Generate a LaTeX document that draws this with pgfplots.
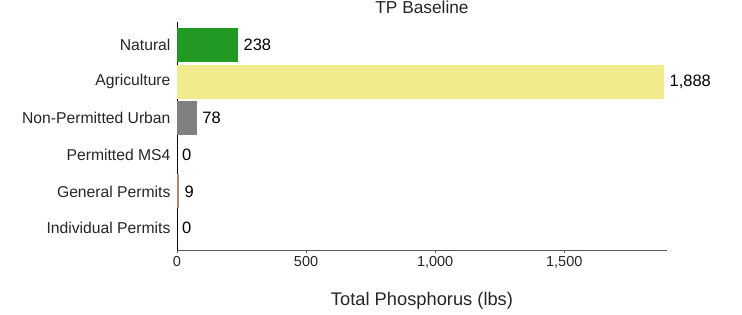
\documentclass[border=0pt]{standalone}
\usepackage{fontspec}
\setmainfont{Liberation Sans}
\usepackage{pgfplots}
\pgfplotsset{compat=1.18}
\definecolor{cgreen}{RGB}{34,153,34}
\definecolor{cyellow}{RGB}{240,235,140}
\definecolor{cgray}{RGB}{128,128,128}
\definecolor{cbrown}{RGB}{185,135,105}
\definecolor{cmaroon}{RGB}{160,60,60}
\begin{document}
\begin{tikzpicture}
\begin{axis}[name=ax, xbar, scale only axis, width=490pt, height=228pt,
  xmin=0, xmax=1898, ymin=-0.6, ymax=5.63,
  clip=false,
  axis x line*=bottom, axis y line*=left,
  x axis line style={draw=black!65, line width=0.9pt},
  y axis line style={draw=black, line width=0.9pt},
  ytick={0,1,2,3,4,5},
  yticklabels={Individual Permits, General Permits, Permitted MS4, Non-Permitted Urban, Agriculture, Natural},
  xtick={0,500,1000,1500},
  tick align=outside,
  major tick length=3pt,
  xtick style={draw=black!65},
  ytick style={draw=none},
  xticklabel style={font=\fontsize{14.5}{17}\selectfont, text=black!85},
  yticklabel style={font=\fontsize{15.7}{18}\selectfont, text=black!85},
  /pgf/number format/assume math mode=true,
  /pgf/number format/1000 sep={,},
  bar width=34pt, bar shift=0pt,
  nodes near coords,
  nodes near coords style={anchor=west, font=\fontsize{16.5}{19}\selectfont, text=black, inner sep=5pt, /pgf/number format/1000 sep={,}, /pgf/number format/assume math mode=true},
  title={TP Baseline},
  title style={at={(0.5,1)}, anchor=base, yshift=2pt, inner sep=0pt, font=\fontsize{17.3}{20}\selectfont, text=black!85},
  xlabel={Total Phosphorus (lbs)},
  xlabel style={at={(0.5,0)}, anchor=base, yshift=-56pt, inner sep=0pt, font=\fontsize{18.3}{21}\selectfont, text=black!85},
]
\addplot[draw=none, fill=cgreen] coordinates {(238,5)};
\addplot[draw=none, fill=cyellow] coordinates {(1888,4)};
\addplot[draw=none, fill=cgray] coordinates {(78,3)};
\addplot[draw=none, fill=cmaroon] coordinates {(0,2)};
\addplot[draw=none, fill=cbrown] coordinates {(9,1)};
\addplot[draw=none, fill=cmaroon] coordinates {(0,0)};
\end{axis}
\pgfresetboundingbox
\path ([shift={(-177pt,-65pt)}]ax.south west) rectangle ([shift={(75pt,22pt)}]ax.north east);
\end{tikzpicture}
\end{document}
